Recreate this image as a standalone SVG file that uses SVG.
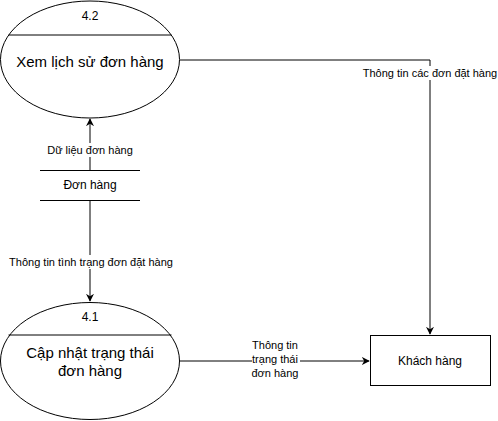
<svg xmlns="http://www.w3.org/2000/svg" width="498" height="421" viewBox="0 0 498 421">
<defs>
<marker id="arr" viewBox="0 0 10 10" refX="9" refY="5" markerWidth="8" markerHeight="8" markerUnits="userSpaceOnUse" orient="auto">
<path d="M0,0 L10,5 L0,10 L3,5 Z" fill="#000"/>
</marker>
</defs>
<style>
text{font-family:"Liberation Sans",Arial,sans-serif;fill:#000;text-anchor:middle}
.shape{fill:#fff;stroke:#000;stroke-width:1}
.line{fill:none;stroke:#000;stroke-width:1}
.edge{fill:none;stroke:#000;stroke-width:1;marker-end:url(#arr)}
.lbl{font-size:11px}
.bg{fill:#fff}
</style>
<rect width="498" height="421" fill="#fff"/>
<g id="connectors">
<path class="edge" d="M180,60 H430 V334"/>
<rect class="bg" x="362" y="66" width="136" height="14"/>
<text class="lbl" x="430" y="77">Thông tin các đơn đặt hàng</text>
<path class="edge" d="M180,361 H369"/>
<rect class="bg" x="252" y="338" width="48" height="40"/>
<text class="lbl" x="275" y="349">Thông tin</text>
<text class="lbl" x="275" y="363">trạng thái</text>
<text class="lbl" x="275" y="377">đơn hàng</text>
<path class="edge" d="M90,170 V119"/>
<rect class="bg" x="45" y="143" width="90" height="14"/>
<text class="lbl" x="90" y="154">Dữ liệu đơn hàng</text>
<path class="edge" d="M90,200 V301"/>
<rect class="bg" x="8" y="255" width="167" height="14"/>
<text class="lbl" x="91" y="266">Thông tin tình trạng đơn đặt hàng</text>
</g>
<g id="p42">
<ellipse class="shape" cx="90" cy="59.5" rx="89.5" ry="58.5"/>
<line class="line" x1="8.5" y1="35" x2="171.5" y2="35"/>
<text x="90" y="20" font-size="12">4.2</text>
<text x="90" y="67" font-size="15">Xem lịch sử đơn hàng</text>
</g>
<g id="store">
<line class="line" x1="40" y1="170.5" x2="140" y2="170.5"/>
<line class="line" x1="40" y1="200.5" x2="140" y2="200.5"/>
<text x="90" y="189" font-size="12">Đơn hàng</text>
</g>
<g id="p41">
<ellipse class="shape" cx="90" cy="361" rx="89.5" ry="58.5"/>
<line class="line" x1="8.5" y1="335" x2="171.5" y2="335"/>
<text x="90" y="321" font-size="12">4.1</text>
<text x="90" y="358" font-size="15">Cập nhật trạng thái</text>
<text x="90" y="376" font-size="15">đơn hàng</text>
</g>
<g id="khachhang">
<rect class="shape" x="370.5" y="335.5" width="120" height="50"/>
<text x="430" y="365" font-size="12">Khách hàng</text>
</g>
</svg>
